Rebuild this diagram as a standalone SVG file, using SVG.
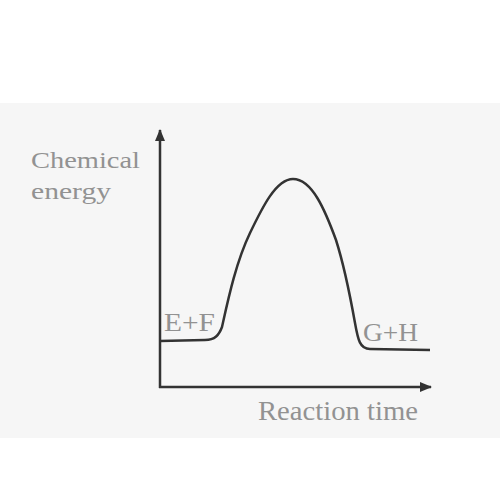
<svg xmlns="http://www.w3.org/2000/svg" width="500" height="500" viewBox="0 0 500 500">
<defs>
<marker id="arr" viewBox="0 0 12 10" refX="11" refY="5" markerWidth="12" markerHeight="10" markerUnits="userSpaceOnUse" orient="auto">
<path d="M0,0 L12,5 L0,10 Z" fill="#333"/>
</marker>
<style>
.ax{stroke:#333;stroke-width:2.5;fill:none}
.curve{stroke:#333;stroke-width:2.5;fill:none}
.lbl{font-family:"Liberation Serif",serif;fill:#929292}
</style>
</defs>
<rect x="0" y="0" width="500" height="500" fill="#ffffff"/>
<rect x="0" y="103" width="500" height="335" fill="#f6f6f6"/>
<g id="connectors">
<line class="ax" x1="160" y1="388" x2="160" y2="130" marker-end="url(#arr)"/>
<line class="ax" x1="159" y1="387" x2="431" y2="387" marker-end="url(#arr)"/>
<path class="curve" d="M160,341 L205,340 C215,340 219,335 222,327 C228,300 236,262 250,233 C262,208 276,179 293,179 C312,179 325,210 336,240 C343,262 350,295 355,323 C358,340 360,349 370,349 L430,350"/>
</g>
<g id="y-label">
<text class="lbl" x="31" y="168" font-size="24" textLength="109" lengthAdjust="spacingAndGlyphs">Chemical</text>
<text class="lbl" x="31" y="199" font-size="24" textLength="80" lengthAdjust="spacingAndGlyphs">energy</text>
</g>
<g id="x-label">
<text class="lbl" x="258" y="420" font-size="28" textLength="160" lengthAdjust="spacingAndGlyphs">Reaction time</text>
</g>
<g id="reactants">
<text class="lbl" x="164" y="331" font-size="26" textLength="51" lengthAdjust="spacingAndGlyphs">E+F</text>
</g>
<g id="products">
<text class="lbl" x="363" y="341" font-size="26" textLength="55" lengthAdjust="spacingAndGlyphs">G+H</text>
</g>
</svg>
